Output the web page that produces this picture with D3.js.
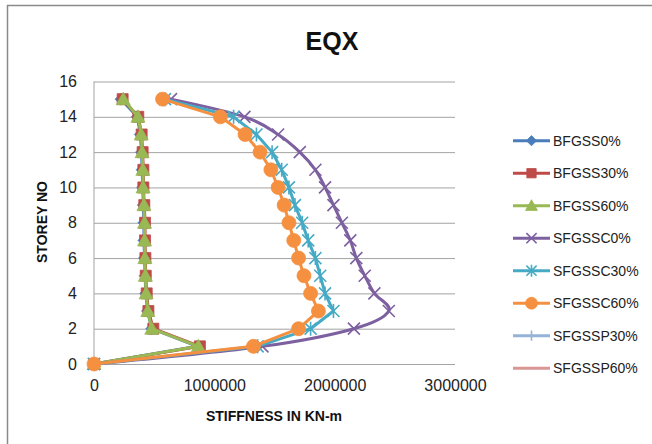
<!DOCTYPE html>
<html>
<head>
<meta charset="utf-8">
<script src="https://cdn.jsdelivr.net/npm/d3@7"></script>
<style>
  html, body { margin: 0; padding: 0; background: #fff; }
  svg { display: block; font-family: "Liberation Sans", Arial, sans-serif; }
</style>
</head>
<body>
<svg id="chart" width="652" height="444"></svg>
<script>
// Storey numbers (y values) shared by every series
const storeys = [0, 1, 2, 3, 4, 5, 6, 7, 8, 9, 10, 11, 12, 13, 14, 15];

// Stiffness per storey, kN-m
const bfgss0   = [0, 860000, 480000, 445000, 430000, 425000, 420000, 415000, 415000, 410000, 405000, 400000, 395000, 385000, 360000, 225000];
const bfgss30  = [0, 880000, 493000, 452000, 438000, 430000, 427000, 424000, 424000, 418000, 410000, 410000, 404000, 396000, 368000, 238000];
const bfgss60  = [0, 867000, 480000, 447000, 433000, 427000, 423000, 420000, 420000, 415000, 408000, 406000, 400000, 392000, 365000, 243000];
const sfgssc0  = [0, 1400000, 2160000, 2450000, 2330000, 2250000, 2180000, 2130000, 2060000, 1990000, 1920000, 1840000, 1710000, 1530000, 1250000, 640000];
const sfgssc30 = [0, 1360000, 1800000, 1990000, 1920000, 1880000, 1840000, 1780000, 1730000, 1670000, 1620000, 1560000, 1480000, 1350000, 1160000, 590000];
const sfgssc60 = [0, 1325000, 1700000, 1865000, 1800000, 1745000, 1700000, 1660000, 1620000, 1580000, 1530000, 1470000, 1380000, 1255000, 1050000, 570000];
const sfgssp30 = [];
const sfgssp60 = [];

const seriesNames = ["BFGSS0%", "BFGSS30%", "BFGSS60%", "SFGSSC0%", "SFGSSC30%", "SFGSSC60%", "SFGSSP30%", "SFGSSP60%"];
const seriesValues = [bfgss0, bfgss30, bfgss60, sfgssc0, sfgssc30, sfgssc60, sfgssp30, sfgssp60];

const xTicks = [0, 1000000, 2000000, 3000000];
const yTicks = [0, 2, 4, 6, 8, 10, 12, 14, 16];

// Per-series styling
const colors  = ["#4A7EBB", "#BE4B48", "#98B954", "#7D60A0", "#46AAC5", "#F59040", "#95B3D7", "#D99694"];
const markers = ["diamond", "square", "triangle", "times", "asterisk", "circle", "plus", "dash"];
const smooth  = [false, false, false, true, false, false, false, false];

const svg = d3.select("#chart");

// Outer chart frame
svg.append("rect")
  .attr("x", 7.5).attr("y", 5.5)
  .attr("width", 700).attr("height", 500)
  .attr("fill", "#fff").attr("stroke", "#8a8a8a").attr("stroke-width", 1.5);

const x = d3.scaleLinear().domain([0, 3000000]).range([94, 455]);
const y = d3.scaleLinear().domain([0, 16]).range([364, 81.5]);

// Horizontal gridlines
svg.append("g")
  .attr("transform", `translate(${x(0)},0)`)
  .call(d3.axisLeft(y).tickValues(yTicks).tickSize(-(x(3000000) - x(0))).tickFormat(""))
  .call(g => g.select(".domain").remove())
  .call(g => g.selectAll("line").attr("stroke", "#a3a3a3").attr("stroke-width", 1));

// Vertical value axis line
svg.append("line")
  .attr("x1", x(0)).attr("x2", x(0))
  .attr("y1", y(16)).attr("y2", y(0))
  .attr("stroke", "#a3a3a3").attr("stroke-width", 1);

// Y tick labels
svg.append("g")
  .attr("transform", `translate(${x(0) - 17},0)`)
  .call(d3.axisLeft(y).tickValues(yTicks).tickSize(0).tickPadding(0))
  .call(g => g.select(".domain").remove())
  .call(g => g.selectAll("text")
    .attr("font-size", 16).attr("fill", "#222")
    .attr("font-family", "'Liberation Sans', Arial, sans-serif"));

// X tick labels
svg.append("g")
  .attr("transform", `translate(0,${y(0) + 16})`)
  .call(d3.axisBottom(x).tickValues(xTicks).tickSize(0).tickPadding(0).tickFormat(d3.format("d")))
  .call(g => g.select(".domain").remove())
  .call(g => g.selectAll("text")
    .attr("font-size", 16).attr("fill", "#222")
    .attr("font-family", "'Liberation Sans', Arial, sans-serif"));

// Titles
svg.append("text")
  .attr("x", 332).attr("y", 50)
  .attr("text-anchor", "middle")
  .attr("font-size", 25).attr("font-weight", "bold").attr("fill", "#111")
  .text("EQX");

svg.append("text")
  .attr("x", 274).attr("y", 421)
  .attr("text-anchor", "middle")
  .attr("font-size", 14).attr("font-weight", "bold").attr("fill", "#111")
  .text("STIFFNESS IN KN-m");

svg.append("text")
  .attr("transform", "translate(47,222) rotate(-90)")
  .attr("text-anchor", "middle")
  .attr("font-size", 14).attr("font-weight", "bold").attr("fill", "#111")
  .text("STOREY NO");

// Marker shapes
function markerPath(type, k) {
  const s = k || 1;
  switch (type) {
    case "diamond":  return `M0,${-6*s}L${6*s},0L0,${6*s}L${-6*s},0Z`;
    case "square":   return `M${-5.5*s},${-5.5*s}h${11*s}v${11*s}h${-11*s}Z`;
    case "triangle": return `M0,${-7*s}L${7*s},${5.5*s}L${-7*s},${5.5*s}Z`;
    case "times":    return `M${-6*s},${-6*s}L${6*s},${6*s}M${-6*s},${6*s}L${6*s},${-6*s}`;
    case "asterisk": return `M${-6*s},${-6*s}L${6*s},${6*s}M${-6*s},${6*s}L${6*s},${-6*s}M0,${-7*s}L0,${7*s}`;
    case "circle":   return d3.arc()({innerRadius: 0, outerRadius: 7*s, startAngle: 0, endAngle: 2*Math.PI});
    case "plus":     return `M0,${-6*s}L0,${6*s}M${-6*s},0L${6*s},0`;
    default:         return `M${-6*s},0L${6*s},0`;
  }
}
const strokeMarkers = new Set(["times", "asterisk", "plus", "dash"]);

function drawMarker(g, type, color, k) {
  const p = g.append("path").attr("d", markerPath(type, k));
  if (strokeMarkers.has(type)) {
    p.attr("fill", "none").attr("stroke", color).attr("stroke-width", 1.6);
  } else {
    p.attr("fill", color).attr("stroke", color).attr("stroke-width", 0.8);
  }
}

// Series lines and markers
seriesValues.forEach((vals, i) => {
  if (!vals.length) return;
  const pts = vals.map((v, j) => [v, storeys[j]]);
  const line = d3.line()
    .x(d => x(d[0])).y(d => y(d[1]))
    .curve(smooth[i] ? d3.curveCardinal.tension(0) : d3.curveLinear);
  const g = svg.append("g");
  g.append("path")
    .attr("d", line(pts))
    .attr("fill", "none")
    .attr("stroke", colors[i])
    .attr("stroke-width", 3)
    .attr("stroke-linejoin", "round");
  pts.forEach(d => {
    const m = g.append("g").attr("transform", `translate(${x(d[0])},${y(d[1])})`);
    drawMarker(m, markers[i], colors[i], 1);
  });
});

// Legend
const legend = svg.append("g");
seriesNames.forEach((name, i) => {
  const cy = 140.7 + i * 32.5;
  const g = legend.append("g");
  g.append("line")
    .attr("x1", 513).attr("x2", 550).attr("y1", cy).attr("y2", cy)
    .attr("stroke", colors[i]).attr("stroke-width", 3);
  const m = g.append("g").attr("transform", `translate(531.5,${cy})`);
  drawMarker(m, markers[i], colors[i], 0.85);
  g.append("text")
    .attr("x", 553).attr("y", cy).attr("dy", "0.36em")
    .attr("font-size", 14).attr("fill", "#222")
    .text(name);
});
</script>
</body>
</html>
